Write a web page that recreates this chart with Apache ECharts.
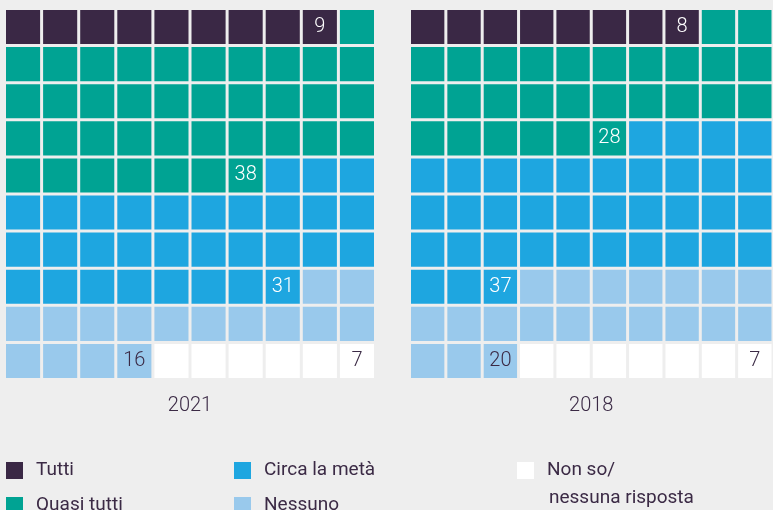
<!DOCTYPE html>
<html>
<head>
<meta charset="utf-8">
<script src="https://cdn.jsdelivr.net/npm/echarts@6/dist/echarts.min.js"></script>
<style>
html,body{margin:0;padding:0;background:#eeeeee;}
#chart{width:773px;height:510px;}
</style>
</head>
<body>
<div id="chart"></div>
<script>
const categories = ['Tutti', 'Quasi tutti', 'Circa la metà', 'Nessuno', 'Non so/ nessuna risposta'];
const years = ['2021', '2018'];
const values2021 = [9, 38, 31, 16, 7];
const values2018 = [8, 28, 37, 20, 7];
const colors = ['#3a2845', '#00a393', '#1ea6e0', '#99c9ec', '#ffffff'];
const labelColors = ['#ffffff', '#ffffff', '#ffffff', '#3b2a45', '#3b2a45'];
const gridCols = ['0','1','2','3','4','5','6','7','8','9'];
const gridRows = ['0','1','2','3','4','5','6','7','8','9'];

const TEXT = '#3b2a45';
const FONT = 'Roboto, "Noto Sans", sans-serif';
const GAP = 3;

function buildSeries(values, gi) {
  const out = [];
  let idx = 0;
  values.forEach((v, ci) => {
    const end = Math.min(idx + v, 100);
    const data = [];
    for (let k = idx; k < end; k++) {
      const isLast = (k === end - 1);
      data.push([k % 10, Math.floor(k / 10), isLast ? v : null]);
    }
    idx = end;
    out.push({
      type: 'custom',
      name: categories[ci],
      xAxisIndex: gi,
      yAxisIndex: gi,
      itemStyle: { color: colors[ci] },
      data: data,
      animation: false,
      renderItem: function (params, api) {
        const c = api.coord([api.value(0), api.value(1)]);
        const s = api.size([1, 1]);
        const w = s[0] - GAP, h = s[1] - GAP;
        const lab = api.value(2);
        const el = {
          type: 'rect',
          shape: { x: c[0] - w / 2, y: c[1] - h / 2, width: w, height: h },
          style: { fill: colors[ci] }
        };
        if (lab !== null && lab !== undefined && !isNaN(lab) && lab !== '') {
          el.textContent = {
            style: {
              text: String(lab),
              fill: labelColors[ci],
              fontSize: 20,
              fontWeight: 300,
              fontFamily: FONT
            }
          };
          el.textConfig = { position: 'inside' };
        }
        return el;
      }
    });
  });
  return out;
}

const chart = echarts.init(document.getElementById('chart'), null, { renderer: 'canvas' });

const axisCommon = {
  type: 'category',
  axisLine: { show: false },
  axisTick: { show: false },
  axisLabel: { show: false },
  splitLine: { show: false }
};

const legendCommon = {
  orient: 'vertical',
  top: 461,
  height: 80,
  padding: 0,
  itemWidth: 17,
  itemHeight: 17,
  itemGap: 16,
  icon: 'rect',
  selectedMode: false,
  textStyle: { color: TEXT, fontSize: 19, fontFamily: FONT, lineHeight: 17, padding: [0, 0, 0, 8] }
};

chart.setOption({
  backgroundColor: '#eeeeee',
  animation: false,
  grid: [
    { left: 4.5, top: 8.5, width: 371, height: 371 },
    { left: 409.5, top: 8.5, width: 371, height: 371 }
  ],
  xAxis: years.map((y, i) => Object.assign({}, axisCommon, {
    gridIndex: i,
    data: gridCols,
    name: y,
    nameLocation: 'middle',
    nameGap: 16,
    nameTextStyle: { color: TEXT, fontSize: 20, fontWeight: 300, fontFamily: FONT, verticalAlign: 'top' }
  })),
  yAxis: years.map((y, i) => Object.assign({}, axisCommon, {
    gridIndex: i,
    data: gridRows,
    inverse: true
  })),
  legend: [
    Object.assign({}, legendCommon, { left: 6, data: [categories[0], categories[1]] }),
    Object.assign({}, legendCommon, { left: 234, data: [categories[2], categories[3]] }),
    Object.assign({}, legendCommon, { left: 517, data: [categories[4]], formatter: function () { return 'Non so/'; } })
  ],
  graphic: [
    {
      type: 'text',
      left: 549,
      top: 489,
      style: { text: 'nessuna risposta', fill: TEXT, fontSize: 19, fontFamily: FONT }
    }
  ],
  series: buildSeries(values2021, 0).concat(buildSeries(values2018, 1))
});
</script>
</body>
</html>
